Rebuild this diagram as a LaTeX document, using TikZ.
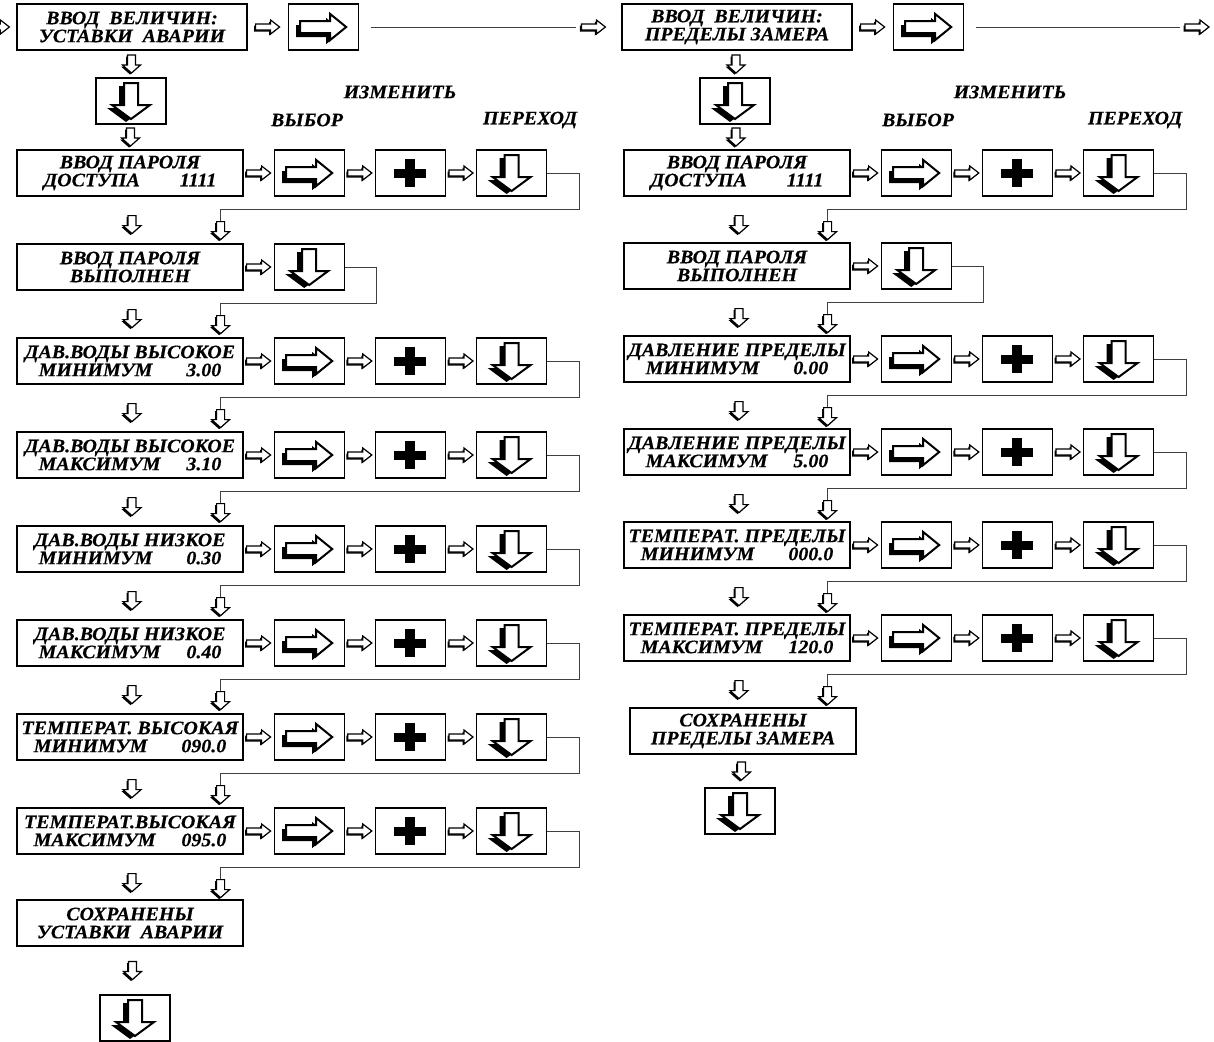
\documentclass[tikz,border=0pt]{standalone}
\usepackage{fontspec}
\setmainfont{Liberation Serif}
\newfontfamily\lcdfont{Liberation Serif}[FakeStretch=1.05, FakeBold=0.4]
\usetikzlibrary{calc,positioning}

% key glyphs, drawn in the picture's pixel units
\tikzset{
  pics/sright/.style={code={
    \fill[shift={(-1.5,1.5)}] (-12,-3) -- (3,-3) -- (3,-7) -- (12,0) -- (3,7) -- (3,3) -- (-12,3) -- cycle;
    \filldraw[fill=white, line width=.6pt] (-12,-3) -- (3,-3) -- (3,-7) -- (12,0) -- (3,7) -- (3,3) -- (-12,3) -- cycle;
  }},
  pics/sdown/.style={code={
    \fill[shift={(-1.5,1.5)}] (-4,-9) -- (4,-9) -- (4,1) -- (9,1) -- (0,9) -- (-9,1) -- (-4,1) -- cycle;
    \filldraw[fill=white, line width=.6pt] (-4,-9) -- (4,-9) -- (4,1) -- (9,1) -- (0,9) -- (-9,1) -- (-4,1) -- cycle;
  }},
  pics/bigright/.style={code={
    \fill[shift={(-4,4)}] (-23,-6) -- (7,-6) -- (7,-13) -- (23,0) -- (7,13) -- (7,6) -- (-23,6) -- cycle;
    \filldraw[fill=white, line width=1pt] (-23,-6) -- (7,-6) -- (7,-13) -- (23,0) -- (7,13) -- (7,6) -- (-23,6) -- cycle;
  }},
  pics/bigdown/.style={code={
    \fill[shift={(-5,3)}] (-7,-18) -- (7,-18) -- (7,4) -- (19,4) -- (0,18) -- (-19,4) -- (-7,4) -- cycle;
    \filldraw[fill=white, line width=1pt] (-7,-18) -- (7,-18) -- (7,4) -- (19,4) -- (0,18) -- (-19,4) -- (-7,4) -- cycle;
  }},
  pics/bigplus/.style={code={
    \fill (-16,-4.5) rectangle (16,4.5);
    \fill (-5,-14) rectangle (5,14);
  }},
}

% value row: display, select / change / next keys, return line to the next row
\newcommand\keyrow[3]{%
  \node[disp] (#1) at (#2) {#3};
  \node[kright, right=15pt of #1]     (#1-sel) {};
  \node[kplus,  right=15pt of #1-sel] (#1-inc) {};
  \node[kdown,  right=15pt of #1-inc] (#1-go)  {};
  \pic at ($(#1.east)!.5!(#1-sel.west)$)     {sright};
  \pic at ($(#1-sel.east)!.5!(#1-inc.west)$) {sright};
  \pic at ($(#1-inc.east)!.5!(#1-go.west)$)  {sright};
  \coordinate (#1-ret) at ($(#1.south east)+(-23,25)$);
  \draw[ln] (#1-go.east) -- ++(32,0) |- ($(#1-ret)+(0,-12)$) -- (#1-ret);
  \pic at ($(#1-ret)+(0,9)$) {sdown};
  \pic at ($(#1.south)+(2,28)$) {sdown};
}
% confirmation row: display and next key only
\newcommand\passrow[3]{%
  \node[disp] (#1) at (#2) {#3};
  \node[kdown, right=15pt of #1] (#1-go) {};
  \pic at ($(#1.east)!.5!(#1-go.west)$) {sright};
  \coordinate (#1-ret) at ($(#1.south east)+(-23,25)$);
  \draw[ln] (#1-go.east) -- ++(32,0) |- ($(#1-ret)+(0,-12)$) -- (#1-ret);
  \pic at ($(#1-ret)+(0,9)$) {sdown};
  \pic at ($(#1.south)+(2,28)$) {sdown};
}

\begin{document}
\begin{tikzpicture}[
  x=0.5pt, y=-0.5pt,
  disp/.style={draw, line width=.6pt, minimum width=113pt, minimum height=23pt,
               inner sep=1pt, align=center,
               font=\lcdfont\bfseries\itshape\fontsize{9.5}{9}\selectfont},
  key/.style={draw, line width=.6pt, minimum width=35pt, minimum height=23pt, inner sep=0pt},
  kright/.style={key, path picture={\pic at (path picture bounding box.center) {bigright};}},
  kplus/.style={key, path picture={\pic at (path picture bounding box.center) {bigplus};}},
  kdown/.style={key, path picture={\pic at (path picture bounding box.center) {bigdown};}},
  ln/.style={draw=black!75, line width=.5pt},
  hd/.style={font=\lcdfont\bfseries\itshape\fontsize{9.5}{10}\selectfont, inner sep=0pt},
]
\useasboundingbox (0,0) rectangle (1214,1041);

% ============ alarm set points (left) ======================================
\node[disp, minimum width=115pt] (vA) at (132,27) {ВВОД~~ВЕЛИЧИН:\\УСТАВКИ~~АВАРИИ};
\node[kright, right=20pt of vA] (vA-sel) {};
\pic at ($(vA.east)!.5!(vA-sel.west)$) {sright};
\pic at ($(vA.west)+(-19,0)$) {sright};
\node[kdown] (vA-go) at (131,101) {};
\pic at ($(vA.south)!.5!(vA-go.north)$) {sdown};

\node[hd] (chA) at (400,92)  {ИЗМЕНИТЬ};
\node[hd] (slA) at (307,120) {ВЫБОР};
\node[hd] (nxA) at (530,120) {ПЕРЕХОД};

\keyrow{pA}{130,173}{ВВОД ПАРОЛЯ\\ДОСТУПА\hspace{20pt}1111}
\pic at ($(vA-go.south)!.5!(pA.north)$) {sdown};
\passrow{okA}{130,267}{ВВОД ПАРОЛЯ\\ВЫПОЛНЕН}
\keyrow{r1A}{130,361}{ДАВ.ВОДЫ ВЫСОКОЕ\\МИНИМУМ\hspace{17pt}3.00}
\keyrow{r2A}{130,455}{ДАВ.ВОДЫ ВЫСОКОЕ\\МАКСИМУМ\hspace{13pt}3.10}
\keyrow{r3A}{130,549}{ДАВ.ВОДЫ НИЗКОЕ\\МИНИМУМ\hspace{17pt}0.30}
\keyrow{r4A}{130,643}{ДАВ.ВОДЫ НИЗКОЕ\\МАКСИМУМ\hspace{13pt}0.40}
\keyrow{r5A}{130,737}{ТЕМПЕРАТ. ВЫСОКАЯ\\МИНИМУМ\hspace{17pt}090.0}
\keyrow{r6A}{130,831}{ТЕМПЕРАТ.ВЫСОКАЯ\\МАКСИМУМ\hspace{13pt}095.0}

\node[disp] (sA) at (130,923) {СОХРАНЕНЫ\\УСТАВКИ~~АВАРИИ};
\node[kdown] (sA-go) at (135,1018) {};
\pic at ($(sA.south)!.5!(sA-go.north)$) {sdown};

% ============ measuring limits (right) =====================================
\node[disp, minimum width=115pt] (vB) at (737,27) {ВВОД~~ВЕЛИЧИН:\\ПРЕДЕЛЫ ЗАМЕРА};
\node[kright, right=20pt of vB] (vB-sel) {};
\pic at ($(vB.east)!.5!(vB-sel.west)$) {sright};
\coordinate (vB-in) at ($(vB.west)+(-28,0)$);
\pic at (vB-in) {sright};
\coordinate (vC-in) at (1197,27);
\pic at (vC-in) {sright};
\node[kdown] (vB-go) at (735,101) {};
\pic at ($(vB.south)!.5!(vB-go.north)$) {sdown};

\draw[ln] ($(vA-sel.east)+(12,0)$) -- ($(vB-in)+(-17,0)$);
\draw[ln] ($(vB-sel.east)+(12,0)$) -- ($(vC-in)+(-17,0)$);

\node[hd] (chB) at (1010,92)  {ИЗМЕНИТЬ};
\node[hd] (slB) at (918,120)  {ВЫБОР};
\node[hd] (nxB) at (1135,120) {ПЕРЕХОД};

\keyrow{pB}{737,173}{ВВОД ПАРОЛЯ\\ДОСТУПА\hspace{20pt}1111}
\pic at ($(vB-go.south)!.5!(pB.north)$) {sdown};
\passrow{okB}{737,266}{ВВОД ПАРОЛЯ\\ВЫПОЛНЕН}
\keyrow{r1B}{737,359}{ДАВЛЕНИЕ ПРЕДЕЛЫ\\МИНИМУМ\hspace{17pt}0.00}
\keyrow{r2B}{737,452}{ДАВЛЕНИЕ ПРЕДЕЛЫ\\МАКСИМУМ\hspace{13pt}5.00}
\keyrow{r3B}{737,545}{ТЕМПЕРАТ. ПРЕДЕЛЫ\\МИНИМУМ\hspace{17pt}000.0}
\keyrow{r4B}{737,638}{ТЕМПЕРАТ. ПРЕДЕЛЫ\\МАКСИМУМ\hspace{13pt}120.0}

\node[disp] (sB) at (743,731) {СОХРАНЕНЫ\\ПРЕДЕЛЫ ЗАМЕРА};
\node[kdown] (sB-go) at (740,811) {};
\pic at ($(sB.south)!.5!(sB-go.north)$) {sdown};

\end{tikzpicture}
\end{document}
